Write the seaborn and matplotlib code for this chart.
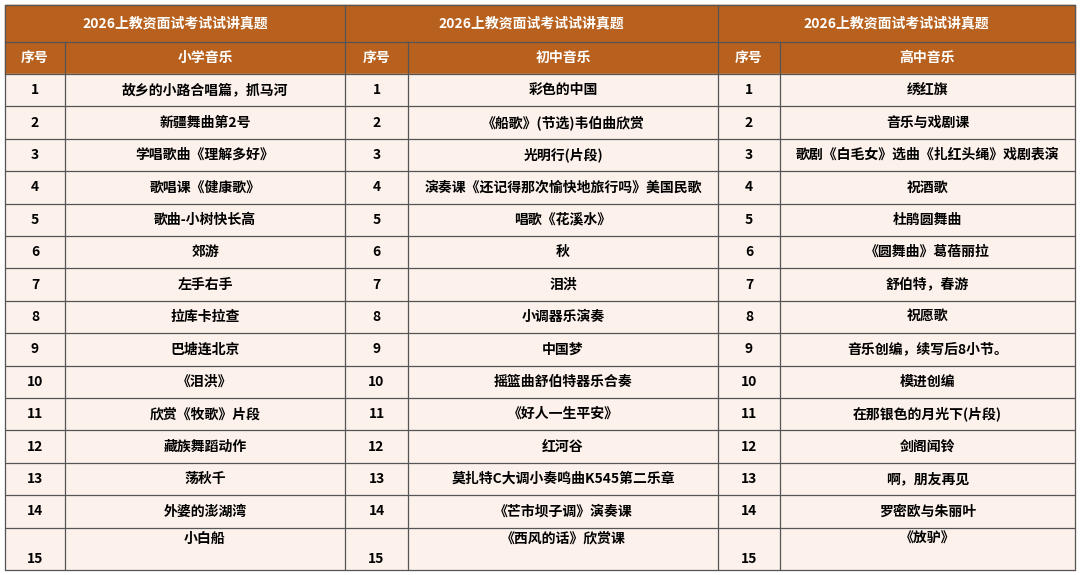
import matplotlib
matplotlib.use("Agg")
import matplotlib.pyplot as plt
import seaborn as sns
from matplotlib.patches import Rectangle

sns.set_theme(style="white")
plt.rcParams['font.family'] = ['Noto Sans CJK SC', 'DejaVu Sans']

title = "2026上教资面试考试试讲真题"
col_headers = ["小学音乐", "初中音乐", "高中音乐"]
numbers = [str(i) for i in range(1, 16)]
primary = ["故乡的小路合唱篇，抓马河", "新疆舞曲第2号", "学唱歌曲《理解多好》", "歌唱课《健康歌》",
           "歌曲-小树快长高", "郊游", "左手右手", "拉库卡拉查", "巴塘连北京", "《泪洪》",
           "欣赏《牧歌》片段", "藏族舞蹈动作", "荡秋千", "外婆的澎湖湾", "小白船"]
junior = ["彩色的中国", "《船歌》(节选)韦伯曲欣赏", "光明行(片段)", "演奏课《还记得那次愉快地旅行吗》美国民歌",
          "唱歌《花溪水》", "秋", "泪洪", "小调器乐演奏", "中国梦", "摇篮曲舒伯特器乐合奏",
          "《好人一生平安》", "红河谷", "莫扎特C大调小奏鸣曲K545第二乐章", "《芒市坝子调》演奏课", "《西风的话》欣赏课"]
senior = ["绣红旗", "音乐与戏剧课", "歌剧《白毛女》选曲《扎红头绳》戏剧表演", "祝酒歌", "杜鹃圆舞曲",
          "《圆舞曲》葛蓓丽拉", "舒伯特，春游", "祝愿歌", "音乐创编，续写后8小节。", "模进创编",
          "在那银色的月光下(片段)", "剑阁闻铃", "啊，朋友再见", "罗密欧与朱丽叶", "《放驴》"]
groups = [primary, junior, senior]

HDR = "#B8611E"
CELL = "#FDF1EB"
LINE = "#555555"

fig = plt.figure(figsize=(10.8, 5.75), dpi=100)
ax = fig.add_axes([0, 0, 1, 1])
ax.set_xlim(0, 1080)
ax.set_ylim(575, 0)
ax.axis("off")

xs = [5, 65, 345, 408, 718, 780, 1075]
rows = [74 + i * 32.4 for i in range(15)] + [570]
y0, y1 = 5, 42

ax.add_patch(Rectangle((xs[0], y0), xs[-1] - xs[0], 74 - y0, color=HDR, zorder=0))
ax.add_patch(Rectangle((xs[0], 74), xs[-1] - xs[0], rows[-1] - 74, color=CELL, zorder=0))

for g in range(3):
    a, m, b = xs[2 * g], xs[2 * g + 1], xs[2 * g + 2]
    ax.text((a + b) / 2, (y0 + y1) / 2, title, ha="center", va="center", color="white",
            fontsize=10, fontweight="bold")
    ax.text((a + m) / 2, 58, "序号", ha="center", va="center", color="white", fontsize=10, fontweight="bold")
    ax.text((m + b) / 2, 58, col_headers[g], ha="center", va="center", color="white", fontsize=10, fontweight="bold")
    for i in range(15):
        top, bot = rows[i], rows[i + 1]
        if i < 14:
            ny = ty = (top + bot) / 2
        else:
            ny, ty = bot - 11, top + 11
        ax.text((a + m) / 2, ny, numbers[i], ha="center", va="center", color="black", fontsize=10, fontweight="bold")
        ax.text((m + b) / 2, ty, groups[g][i], ha="center", va="center", color="black", fontsize=10, fontweight="bold")

# lines
ax.plot([xs[0], xs[-1]], [y0, y0], color=LINE, lw=1)
for y in [y1] + rows:
    ax.plot([xs[0], xs[-1]], [y, y], color=LINE, lw=0.9)
for k, x in enumerate(xs):
    ys = y0 if k % 2 == 0 else y1
    ax.plot([x, x], [ys, rows[-1]], color=LINE, lw=0.9)

fig.savefig("out.png", dpi=100, facecolor="white")
